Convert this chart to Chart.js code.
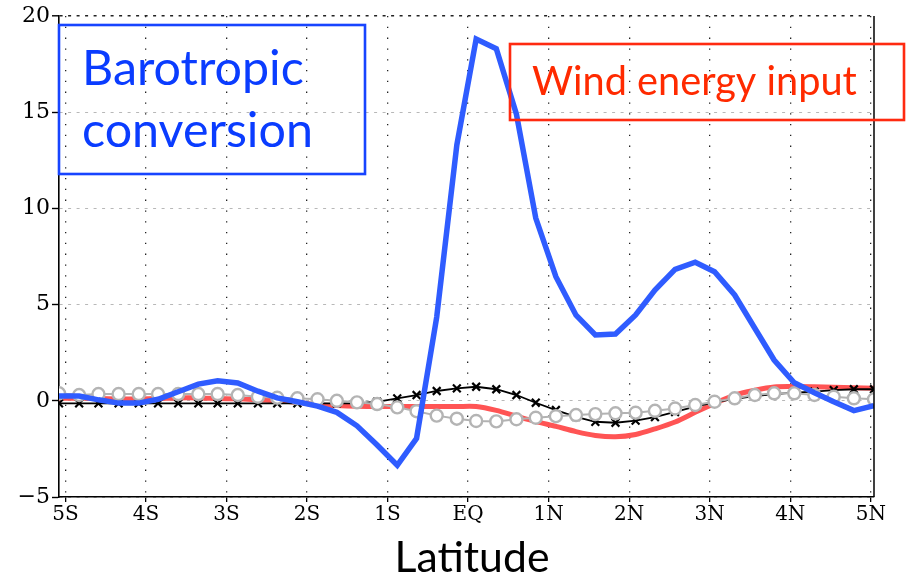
<!DOCTYPE html>
<html>
<head>
<meta charset="utf-8">
<script src="https://cdn.jsdelivr.net/npm/chart.js@4/dist/chart.umd.min.js"></script>
<style>
  html, body { margin: 0; padding: 0; background: #fff; }
  #c { display: block; }
</style>
</head>
<body>
<canvas id="c" width="906" height="578"></canvas>
<script>
// latitude of each model point (deg, negative = south)
var lats = [-5.08, -4.83, -4.59, -4.34, -4.09, -3.85, -3.60, -3.35, -3.11, -2.86,
            -2.61, -2.37, -2.12, -1.87, -1.63, -1.38, -1.13, -0.88, -0.64, -0.39,
            -0.14, 0.10, 0.35, 0.60, 0.84, 1.09, 1.34, 1.58, 1.83, 2.08,
            2.32, 2.57, 2.82, 3.06, 3.31, 3.56, 3.80, 4.05, 4.30, 4.54,
            4.79, 5.04];

var barotropic = [0.25, 0.25, 0.05, -0.12, -0.12, 0.08, 0.47, 0.87, 1.04, 0.93,
                  0.5, 0.15, -0.05, -0.28, -0.6, -1.3, -2.3, -3.35, -1.95, 4.35,
                  13.3, 18.8, 18.3, 14.9, 9.5, 6.45, 4.45, 3.42, 3.47, 4.46,
                  5.76, 6.83, 7.2, 6.71, 5.5, 3.77, 2.12, 0.94, 0.42, -0.05,
                  -0.51, -0.25];

var windInput = [0.13, 0.13, 0.12, 0.1, 0.1, 0.12, 0.15, 0.15, 0.12, 0.1,
                 0.05, 0.0, -0.08, -0.2, -0.25, -0.28, -0.3, -0.3, -0.3, -0.3,
                 -0.3, -0.3, -0.5, -0.8, -1.08, -1.33, -1.6, -1.8, -1.87, -1.75,
                 -1.46, -1.1, -0.6, -0.14, 0.3, 0.55, 0.72, 0.74, 0.73, 0.71,
                 0.68, 0.65];

var crossSeries = [-0.13, -0.13, -0.13, -0.13, -0.13, -0.13, -0.13, -0.13, -0.13, -0.13,
                   -0.13, -0.13, -0.13, -0.13, -0.13, -0.13, -0.05, 0.13, 0.3, 0.51,
                   0.65, 0.73, 0.6, 0.3, -0.1, -0.48, -0.83, -1.09, -1.14, -1.03,
                   -0.85, -0.58, -0.3, -0.08, 0.1, 0.25, 0.35, 0.42, 0.48, 0.55,
                   0.6, 0.6];

var circleSeries = [0.39, 0.3, 0.35, 0.35, 0.35, 0.35, 0.35, 0.35, 0.35, 0.3,
                    0.21, 0.16, 0.13, 0.08, 0.0, -0.08, -0.17, -0.34, -0.54, -0.77,
                    -0.93, -1.05, -1.07, -0.96, -0.88, -0.8, -0.74, -0.69, -0.65, -0.62,
                    -0.52, -0.4, -0.22, -0.05, 0.13, 0.3, 0.39, 0.39, 0.3, 0.21,
                    0.13, 0.08];

var latTicks = [-5, -4, -3, -2, -1, 0, 1, 2, 3, 4, 5];
var latLabels = ['5S', '4S', '3S', '2S', '1S', 'EQ', '1N', '2N', '3N', '4N', '5N'];
var yTicks = [-5, 0, 5, 10, 15, 20];

function pts(ys) {
    return lats.map(function (x, i) { return {x: x, y: ys[i]}; });
}

function fitSize(ctx, text, family, width) {
    ctx.font = '100px ' + family;
    return 100 * width / ctx.measureText(text).width;
}

var frame = {
    id: 'frame',
    afterDraw: function (chart) {
        var ctx = chart.ctx, a = chart.chartArea;
        ctx.save();
        // right border
        ctx.strokeStyle = '#000';
        ctx.lineWidth = 1.5;
        ctx.beginPath();
        ctx.moveTo(a.right, a.top);
        ctx.lineTo(a.right, a.bottom);
        ctx.stroke();

        // blue label box (transparent, grid shows through)
        ctx.lineWidth = 2.6;
        ctx.strokeStyle = '#1744ff';
        ctx.strokeRect(59, 25, 306, 149);
        var s = fitSize(ctx, 'conversion', 'Lato', 231);
        ctx.font = s + 'px Lato';
        ctx.fillStyle = '#0a3cff';
        ctx.textBaseline = 'alphabetic';
        ctx.textAlign = 'left';
        ctx.fillText('Barotropic', 82, 85);
        ctx.fillText('conversion', 82, 147);

        // red label box
        ctx.strokeStyle = '#ff2a10';
        ctx.strokeRect(510, 44, 394, 76);
        s = fitSize(ctx, 'Wind energy input', 'Lato', 325);
        ctx.font = s + 'px Lato';
        ctx.fillStyle = '#ff2a00';
        ctx.fillText('Wind energy input', 532, 95);

        // x title
        s = fitSize(ctx, 'Latitude', 'Lato', 155);
        ctx.font = s + 'px Lato';
        ctx.fillStyle = '#000';
        ctx.textAlign = 'center';
        ctx.fillText('Latitude', 472, 572);
        ctx.restore();
    }
};

var ctx = document.getElementById('c').getContext('2d');
var chart = new Chart(ctx, {
    type: 'line',
    data: {
        datasets: [{
            label: 'Barotropic conversion',
            data: pts(barotropic),
            borderColor: '#2f5cff',
            borderWidth: 5.5,
            pointRadius: 0,
            tension: 0,
            order: 0
        }, {
            label: 'circles',
            data: pts(circleSeries),
            borderColor: '#b2b2b2',
            borderWidth: 2,
            pointStyle: 'circle',
            pointRadius: 6,
            pointBorderWidth: 2.4,
            pointBorderColor: '#b4b4b4',
            pointBackgroundColor: '#fff',
            tension: 0,
            order: 1
        }, {
            label: 'crosses',
            data: pts(crossSeries),
            borderColor: '#000',
            borderWidth: 1.8,
            pointStyle: 'crossRot',
            pointRadius: 5.5,
            pointBorderWidth: 2.2,
            pointBorderColor: '#000',
            tension: 0,
            order: 2
        }, {
            label: 'Wind energy input',
            data: pts(windInput),
            borderColor: '#ff5454',
            borderWidth: 5,
            pointRadius: 0,
            tension: 0.3,
            order: 3
        }]
    },
    options: {
        responsive: false,
        animation: false,
        layout: { padding: { top: 16, right: 32, left: 0, bottom: 0 } },
        plugins: {
            legend: { display: false },
            tooltip: { enabled: false }
        },
        scales: {
            x: {
                type: 'linear',
                min: -5.08,
                max: 5.04,
                afterBuildTicks: function (s) {
                    s.ticks = latTicks.map(function (v) { return {value: v}; });
                },
                afterFit: function (s) { s.height = 81; },
                ticks: {
                    autoSkip: false,
                    maxRotation: 0,
                    padding: 1,
                    color: '#000',
                    font: { family: 'DejaVu Serif', size: 20, weight: '500' },
                    callback: function (v) { return latLabels[latTicks.indexOf(v)]; }
                },
                grid: {
                    color: '#222',
                    lineWidth: 1.3,
                    tickLength: 5,
                    tickColor: '#000',
                    tickWidth: 1.3,
                    tickBorderDash: []
                },
                border: { display: true, color: '#000', width: 1.6, dash: [1.3, 9.5] }
            },
            y: {
                min: -5,
                max: 20,
                afterBuildTicks: function (s) {
                    s.ticks = yTicks.map(function (v) { return {value: v}; });
                },
                afterFit: function (s) { s.width = 59; },
                ticks: {
                    padding: 2,
                    color: '#000',
                    font: { family: 'DejaVu Serif', size: 22 },
                    callback: function (v) { return v < 0 ? '\u2212' + Math.abs(v) : '' + v; }
                },
                grid: {
                    color: function (c) { return c.tick && c.tick.value === 20 ? '#222' : '#b8b8b8'; },
                    lineWidth: function (c) { return c.tick && c.tick.value === 20 ? 1.6 : 1; },
                    tickLength: 7,
                    tickColor: '#000',
                    tickWidth: 1.4,
                    tickBorderDash: []
                },
                border: { display: true, color: '#000', width: 1.6, dash: [3, 5.5] }
            }
        }
    },
    plugins: [frame]
});
</script>
</body>
</html>
